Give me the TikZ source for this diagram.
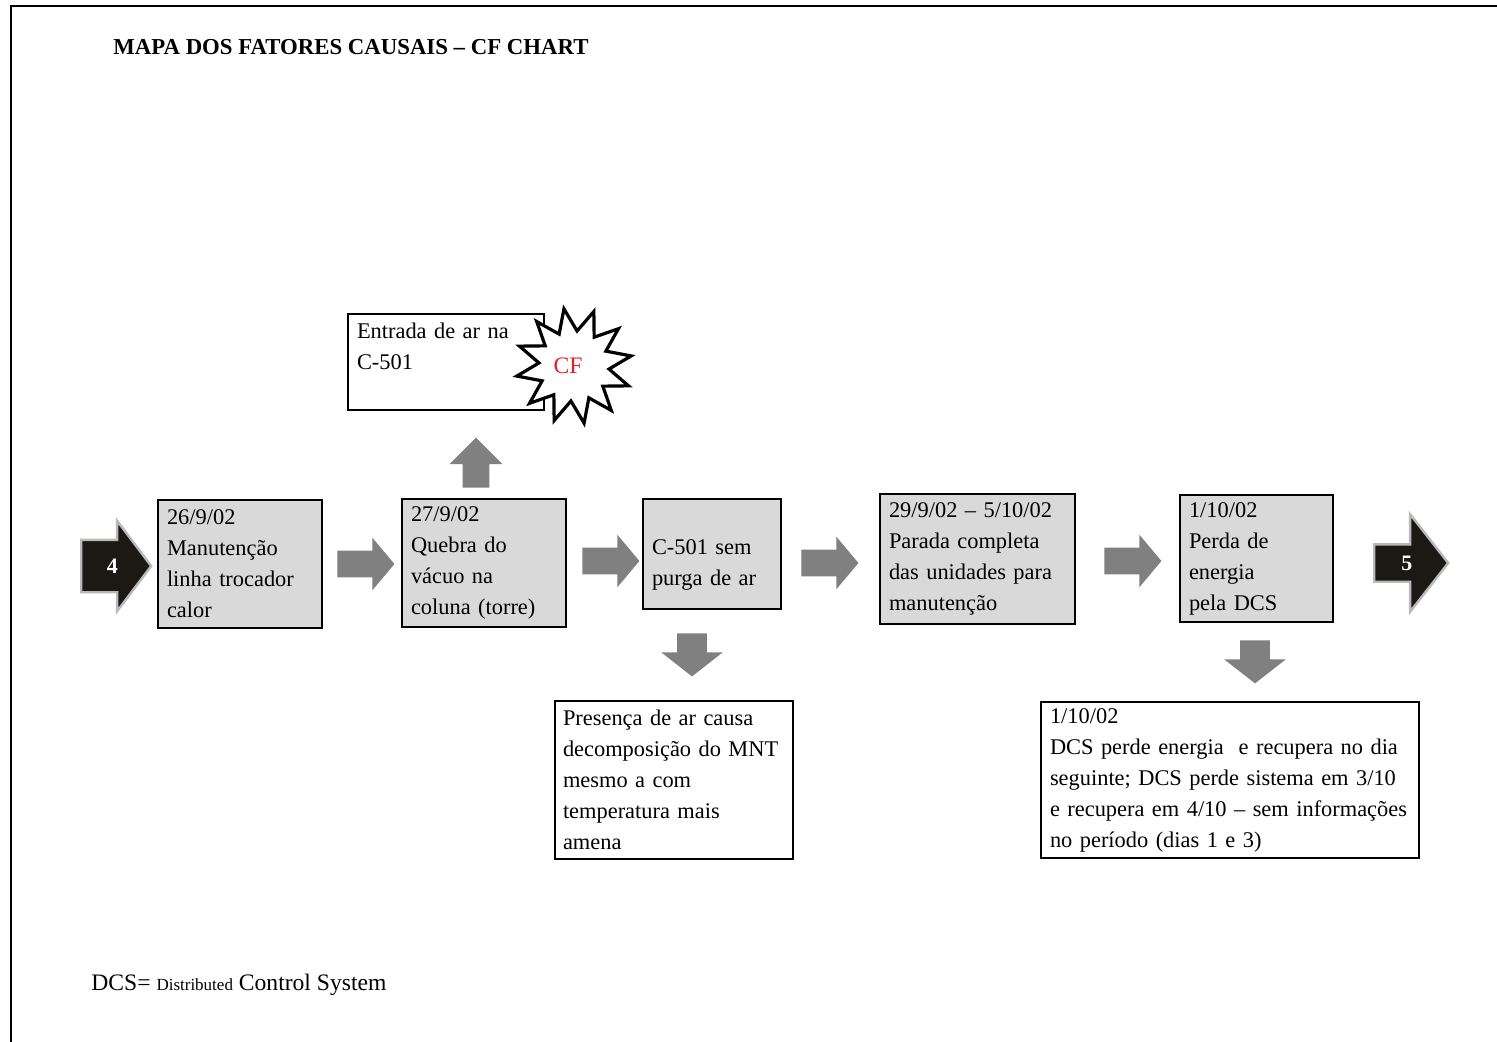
\documentclass[tikz,border=0pt]{standalone}
\usepackage{fontspec}
\setmainfont{Liberation Serif}
\usetikzlibrary{shapes.arrows,shapes.geometric}
\definecolor{boxgray}{RGB}{217,217,217}
\definecolor{arrgray}{RGB}{128,128,128}
\definecolor{blk}{RGB}{28,24,20}
\definecolor{cfred}{RGB}{228,30,40}
\begin{document}
\begin{tikzpicture}[x=0.5pt,y=-0.5pt,
  txt/.style={font=\fontsize{11.2}{15.5}\selectfont},
  evt/.style={txt, draw=black, line width=1pt, fill=boxgray, align=left, inner xsep=4.5pt, inner ysep=0pt},
  note/.style={evt, fill=white},
  garrow/.style={single arrow, fill=arrgray, draw=none, inner xsep=0pt, inner ysep=6.5pt, anchor=tail,
    minimum width=26pt, single arrow head extend=6.5pt, minimum height=28.5pt, single arrow tip angle=100},
  darrow/.style={garrow, rotate=-90, inner ysep=7.25pt, minimum width=30.5pt, single arrow head extend=8pt,
    minimum height=21.5pt, single arrow tip angle=104},
  barrow/.style={single arrow, fill=blk, draw=gray!55, line width=1.2pt, anchor=tail,
    text=white, text height=7.5pt, text depth=0pt, font=\fontsize{11}{12}\selectfont\bfseries}
]
\useasboundingbox (0,0) rectangle (1497,1042);
% frame
\draw[line width=1pt] (11,1042) -- (11,6) -- (1497,6);
% title
\node[anchor=base west, inner sep=0pt, font=\fontsize{11.4}{13}\selectfont\bfseries] (title) at (113,55) {MAPA DOS FATORES CAUSAIS – CF CHART};
% event boxes
\node[evt, text width=73pt, minimum height=64pt] (b1) at (240,564) {26/9/02\\Manutenção\\linha trocador\\calor};
\node[evt, text width=73pt, minimum height=64pt] (b2) at (484,563) {27/9/02\\Quebra do\\vácuo na\\coluna (torre)};
\node[evt, text width=60pt, minimum height=55pt] (b3) at (712,554) {\rule{0pt}{18pt}C-501 sem\\purga de ar};
\node[evt, text width=88.5pt, minimum height=65pt] (b4) at (977.5,559) {29/9/02 – 5/10/02\\Parada completa\\das unidades para\\manutenção};
\node[evt, text width=67.5pt, minimum height=63.5pt] (b5) at (1256.5,558.5) {1/10/02\\Perda de\\energia\\pela DCS};
% notes
\node[note, text width=89pt, minimum height=48pt] (top) at (446,362) {Entrada de ar na\\C-501\\\mbox{}};
\node[star, star points=12, star point ratio=1.65, minimum size=58pt, rotate=10,
  draw=black, line width=1.6pt, fill=white, inner sep=0pt,
  text=cfred, font=\fontsize{11.8}{13}\selectfont] (cf) at (574,366) {\rotatebox{-10}{\hspace{-6pt}CF}};
\node[note, inner xsep=4pt, text width=111pt, minimum height=79pt] (n1) at (674,780) {Presença de ar causa\\decomposição do MNT\\mesmo a com\\temperatura mais\\amena};
\node[note, text width=180pt, minimum height=78pt] (n2) at (1230,780) {1/10/02\\DCS perde energia\ \ e recupera no dia\\seguinte; DCS perde sistema em 3/10\\e recupera em 4/10 – sem informações\\no período (dias 1 e 3)};
% gray block arrows
\node[garrow] (a12) at (337,564) {};
\node[garrow] (a23) at (582,561) {};
\node[garrow] (a34) at (801,563) {};
\node[garrow] (a45) at (1104,561) {};
\node[garrow, rotate=90, minimum height=25pt, single arrow tip angle=90] (aup) at (476,488) {};
\node[darrow] (adn1) at (692,633) {};
\node[darrow] (adn2) at (1255,640) {};
% black connector arrows
\node[barrow, inner xsep=0pt, inner ysep=8.75pt, minimum width=44pt, single arrow head extend=9.5pt, minimum height=35pt, single arrow tip angle=106] (in4) at (80,566) {\hspace{6pt}4};
\node[barrow, inner xsep=0pt, inner ysep=5pt, minimum width=47.5pt, single arrow head extend=15pt, minimum height=37pt, single arrow tip angle=104] (out5) at (1373,563) {\hspace{3pt}5};
% footer
\node[anchor=base west, inner sep=0pt, font=\fontsize{11.8}{14}\selectfont] (foot) at (91,990) {DCS= {\fontsize{8.5}{9}\selectfont Distributed} Control System};
\end{tikzpicture}
\end{document}
